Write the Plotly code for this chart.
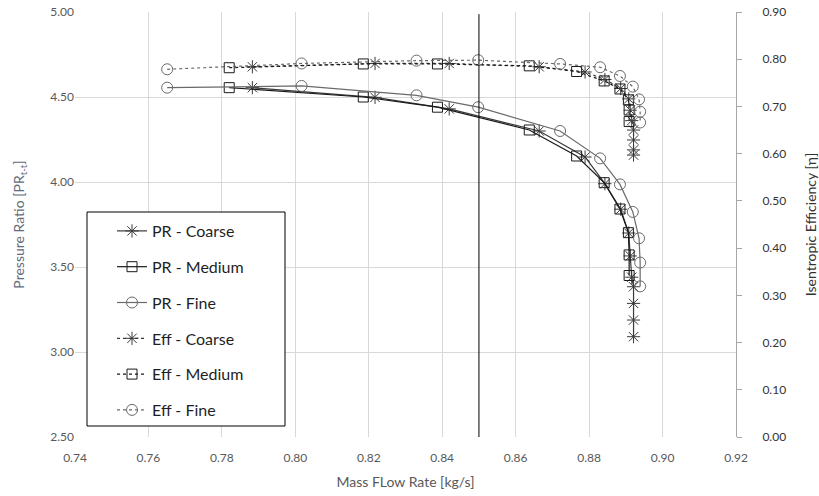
import plotly.graph_objects as go

# ---- data ----
coarse_x = [0.7883, 0.8217, 0.8419, 0.8664, 0.8789, 0.8843, 0.8886, 0.8908, 0.8912, 0.8916, 0.8921, 0.8921, 0.8921, 0.8921]
coarse_pr = [4.555, 4.498, 4.43, 4.30, 4.147, 3.99, 3.84, 3.70, 3.565, 3.44, 3.384, 3.286, 3.188, 3.09]
coarse_eff = [0.784, 0.791, 0.791, 0.784, 0.773, 0.757, 0.738, 0.716, 0.692, 0.670, 0.650, 0.629, 0.608, 0.597]

medium_x = [0.782, 0.8185, 0.8387, 0.8637, 0.8766, 0.8841, 0.8884, 0.8907, 0.8909, 0.8909]
medium_pr = [4.555, 4.50, 4.44, 4.306, 4.153, 3.996, 3.841, 3.702, 3.571, 3.450]
medium_eff = [0.782, 0.790, 0.790, 0.786, 0.774, 0.754, 0.737, 0.714, 0.6925, 0.668]

fine_x = [0.7651, 0.8017, 0.833, 0.8498, 0.8721, 0.883, 0.8884, 0.8919, 0.8936, 0.8939, 0.8939]
fine_pr = [4.555, 4.565, 4.51, 4.44, 4.30, 4.139, 3.986, 3.824, 3.669, 3.526, 3.386]
fine_eff = [0.7787, 0.791, 0.797, 0.798, 0.790, 0.783, 0.7645, 0.742, 0.715, 0.689, 0.666]

design_flow = 0.85

names = ["PR - Coarse", "PR - Medium", "PR - Fine", "Eff - Coarse", "Eff - Medium", "Eff - Fine"]

# ---- styles ----
col_coarse = "#3a3a3a"
col_medium = "#1a1a1a"
col_fine = "#6a6a6a"
sym = {"c": "asterisk-open", "m": "square-open", "f": "circle-open"}
size = {"c": 11, "m": 10, "f": 11}

fig = go.Figure()

series = [
    (coarse_x, coarse_pr, "c", col_coarse, "solid", "y"),
    (medium_x, medium_pr, "m", col_medium, "solid", "y"),
    (fine_x, fine_pr, "f", col_fine, "solid", "y"),
    (coarse_x, coarse_eff, "c", col_coarse, "3px,3px", "y2"),
    (medium_x, medium_eff, "m", col_medium, "3px,3px", "y2"),
    (fine_x, fine_eff, "f", col_fine, "3px,3px", "y2"),
]
for i, (xs, ys, k, col, dash, ax) in enumerate(series):
    fig.add_trace(go.Scatter(
        x=xs, y=ys, name=names[i], yaxis=ax, mode="lines+markers",
        legendgroup=f"g{i}",
        line=dict(color=col, width=1.2, dash=dash),
        marker=dict(symbol=sym[k], size=size[k], color=col, line=dict(width=1, color=col)),
    ))

fig.add_shape(type="line", xref="x", yref="paper", x0=design_flow, x1=design_flow,
              y0=0, y1=0.995, line=dict(color="black", width=1))

# legend frame
L, T, W, H = 75, 12, 661, 425
def px2paper_x(p): return (p - L) / W
def px2paper_y(p): return (T + H - p) / H
fig.add_shape(type="rect", xref="paper", yref="paper",
              x0=px2paper_x(87), x1=px2paper_x(285), y0=px2paper_y(426), y1=px2paper_y(212),
              line=dict(color="black", width=1), fillcolor="white", layer="above")

tick_font = dict(family="Lato, 'Open Sans', sans-serif", size=12, color="#595959")

fig.update_layout(
    width=819, height=496,
    margin=dict(l=L, r=819 - L - W, t=T, b=496 - T - H, autoexpand=False),
    paper_bgcolor="white", plot_bgcolor="white",
    font=dict(family="Lato, 'Open Sans', sans-serif"),
    showlegend=True,
    legend=dict(x=px2paper_x(112), y=px2paper_y(214), xanchor="left", yanchor="top",
                bgcolor="rgba(0,0,0,0)", borderwidth=0, tracegroupgap=12,
                font=dict(size=16, color="#1f1f1f")),
    xaxis=dict(range=[0.74, 0.92], dtick=0.02, tickformat=".2f", showgrid=True,
               gridcolor="#d9d9d9", zeroline=False, showline=False, tickfont=tick_font,
               automargin=False, ticklabelstandoff=12,
               title=dict(text="Mass FLow Rate [kg/s]", font=dict(size=14, color="#595959"), standoff=13)),
    yaxis=dict(range=[2.5, 5.0], dtick=0.5, tickformat=".2f", showgrid=True,
               gridcolor="#d9d9d9", zeroline=False, showline=False, tickfont=tick_font,
               automargin=False,
               title=dict(text="Pressure Ratio [PR<sub>t-t</sub>]", font=dict(size=14, color="#5f6b7a"), standoff=22)),
    yaxis2=dict(range=[0, 0.9], dtick=0.1, tickformat=".2f", overlaying="y", side="right",
                showgrid=False, zeroline=False, showline=True, linecolor="#a6a6a6",
                ticks="outside", ticklen=5, tickcolor="#a6a6a6", automargin=False,
                ticklabelstandoff=18,
                tickfont=dict(family="Lato, 'Open Sans', sans-serif", size=12, color="#333333"),
                title=dict(text="Isentropic Efficiency [η]", font=dict(size=14, color="#333333"), standoff=22)),
)

fig.write_html("out.html", config={"displayModeBar": False},
               post_script="document.body.style.margin='0';document.body.style.overflow='hidden';")
